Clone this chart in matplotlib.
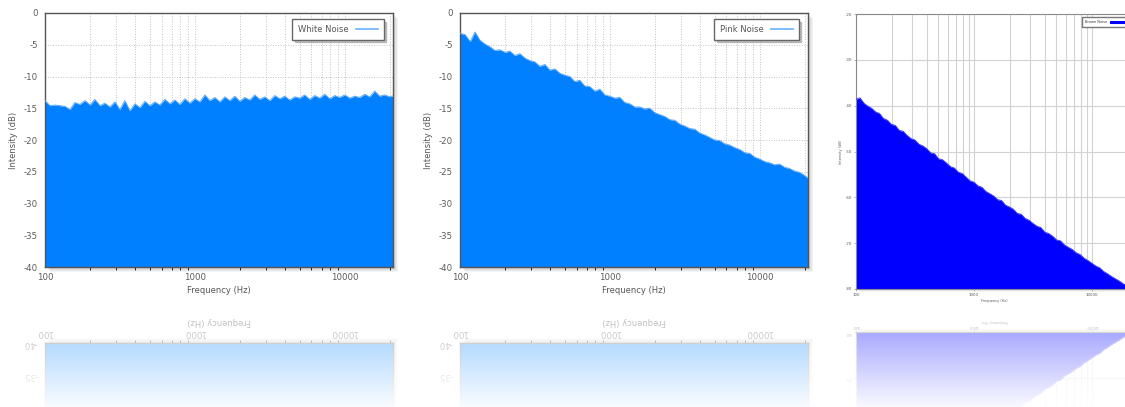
import matplotlib
matplotlib.use("Agg")
import matplotlib.pyplot as plt
import numpy as np
from matplotlib.lines import Line2D
from matplotlib.patches import Rectangle
from matplotlib.ticker import FixedLocator, LogLocator, NullFormatter

plt.rcParams["axes.unicode_minus"] = False

# frequency grid (Hz) shared by the three spectra
freq = [100, 108, 117, 126, 136, 147, 158, 171, 185, 200,
        215, 233, 251, 271, 293, 316, 341, 369, 398, 430,
        464, 501, 541, 584, 631, 681, 736, 794, 858, 926,
        1000, 1080, 1166, 1259, 1359, 1468, 1585, 1711, 1848, 1995,
        2154, 2326, 2512, 2712, 2929, 3162, 3415, 3687, 3981, 4299,
        4642, 5012, 5412, 5843, 6310, 6813, 7356, 7943, 8577, 9261,
        10000, 10798, 11659, 12589, 13594, 14678, 15849, 17113, 18478, 19953,
        21544]

white_db = [-13.8, -14.6, -14.5, -14.6, -14.7, -15.2, -14.1, -14.4, -13.8, -14.5,
            -13.6, -14.6, -14.2, -14.8, -14.0, -15.2, -13.8, -15.4, -14.3, -14.9,
            -13.9, -14.6, -14.0, -14.5, -13.6, -14.3, -13.7, -14.4, -13.5, -14.2,
            -13.5, -14.0, -12.9, -13.8, -13.3, -14.0, -13.2, -13.8, -13.1, -13.9,
            -13.3, -13.7, -12.9, -13.6, -13.2, -13.8, -13.0, -13.5, -13.1, -13.7,
            -13.2, -13.4, -12.9, -13.6, -13.0, -13.4, -12.8, -13.5, -13.0, -13.3,
            -12.9, -13.4, -13.1, -13.3, -12.8, -13.2, -12.3, -13.1, -12.9, -13.2,
            -13.0]

pink_db = [-3.2, -3.4, -4.5, -3.0, -4.3, -4.9, -5.3, -5.9, -5.8, -6.2,
           -6.0, -6.7, -6.4, -7.1, -7.5, -7.7, -8.4, -8.1, -9.0, -8.8,
           -9.5, -9.8, -10.0, -10.8, -10.6, -11.5, -11.6, -12.3, -12.0, -12.9,
           -13.1, -13.4, -13.3, -14.1, -14.3, -14.8, -14.8, -15.1, -15.0, -15.7,
           -16.0, -16.3, -16.8, -16.9, -17.5, -17.8, -18.2, -18.3, -18.9, -19.2,
           -19.6, -20.0, -20.1, -20.6, -20.8, -21.2, -21.5, -22.0, -22.1, -22.7,
           -23.0, -23.4, -23.6, -23.9, -23.8, -24.3, -24.5, -24.9, -25.1, -25.6,
           -26.2]

brown_db = [-38.6, -38.3, -39.5, -40.1, -40.6, -41.4, -41.7, -42.8, -43.2, -44.1,
            -44.3, -45.4, -45.6, -46.5, -47.2, -47.5, -48.4, -48.8, -49.4, -50.3,
            -50.5, -51.6, -51.8, -52.5, -53.3, -53.6, -54.5, -54.8, -55.6, -56.4,
            -56.7, -57.5, -57.8, -58.7, -59.2, -59.7, -60.5, -60.7, -61.7, -62.1,
            -62.6, -63.5, -63.7, -64.6, -65.0, -65.7, -66.3, -66.6, -67.6, -67.9,
            -68.5, -69.3, -69.5, -70.4, -70.9, -71.4, -72.1, -72.5, -73.3, -73.8,
            -74.4, -75.0, -75.4, -76.2, -76.7, -77.3, -77.8, -78.3, -78.9, -79.3,
            -79.7]

x_ticks = [100, 1000, 10000]
x_tick_labels = ["100", "1000", "10000"]

W, H = 1125, 407
fig = plt.figure(figsize=(W / 100, H / 100), dpi=100)
fig.patch.set_facecolor("white")


def px_box(left, top, right, bottom):
    return [left / W, 1 - bottom / H, (right - left) / W, (bottom - top) / H]


def mirror_box(left, top, right, bottom, m):
    # box reflected about the horizontal line y = m (pixels from top)
    return px_box(left, 2 * m - bottom, right, 2 * m - top)


def shadow(box, n=5, up=False, a=0.045):
    l, b, w, h = box
    for i in range(1, n + 1):
        dy = (i / H) if up else -(i / H)
        fig.add_artist(Rectangle((l + i / W, b + dy), w, h, transform=fig.transFigure,
                                 facecolor="black", edgecolor="none", alpha=a, zorder=-5))


def draw(ax, db, fill, edge, xmax, ylim, ystep, big, flip=False):
    ax.fill_between(freq, db, ylim[0], color=fill, lw=0, zorder=2)
    ax.plot(freq, db, color=edge, lw=0.7, zorder=3)
    ax.set_xscale("log")
    ax.set_xlim(100, xmax)
    if flip:
        ax.set_ylim(ylim[1], ylim[0])
        # only the two lowest ticks show up in the reflection
        ax.set_yticks([ylim[0], ylim[0] + ystep])
    else:
        ax.set_ylim(*ylim)
        ax.set_yticks(np.arange(ylim[0], ylim[1] + 1, ystep))
    ax.xaxis.set_major_locator(FixedLocator(x_ticks))
    ax.set_xticklabels(x_tick_labels)
    ax.xaxis.set_minor_locator(LogLocator(base=10, subs=range(2, 10)))
    ax.xaxis.set_minor_formatter(NullFormatter())
    ax.set_axisbelow(True)
    if big:
        gkw = dict(color="#c4c4c4", lw=0.7, linestyle=(0, (1, 1.6)))
        scol = "#555555"
        ax.tick_params(length=0, labelsize=6.2, labelcolor="#5a5a5a")
        ax.tick_params(axis="x", pad=4)
        ax.tick_params(axis="y", pad=5)
        lab_fs, xpad, ypad = 6, 3.5, 4
    else:
        gkw = dict(color="#d2d2d2", lw=0.8, linestyle="-")
        scol = "#8a8a8a"
        ax.tick_params(length=1.5, width=0.5, color="#999999", labelsize=2.8,
                       labelcolor="#555555", pad=1.5)
        ax.tick_params(which="minor", length=0)
        lab_fs, xpad, ypad = 2.5, 1, 2
    ax.grid(True, which="both", axis="x", **gkw)
    ax.grid(True, which="major", axis="y", **gkw)
    for s in ax.spines.values():
        s.set_color(scol)
        s.set_linewidth(1.0 if big else 0.8)
    if flip:
        ax.xaxis.tick_top()
        ax.xaxis.set_label_position("top")
        ax.tick_params(labelrotation=180)
        ax.set_xlabel("Frequency (Hz)", fontsize=lab_fs, color="#555555",
                      labelpad=xpad, rotation=180)
    else:
        ax.set_xlabel("Frequency (Hz)", fontsize=lab_fs, color="#555555", labelpad=xpad)
        ax.set_ylabel("Intensity (dB)", fontsize=lab_fs, color="#555555", labelpad=ypad)


panels = [
    # (pixel box, data, fill, edge, legend colour, label, x max, y range, step, big, mirror line)
    ((45, 13, 393, 267), white_db, "#0080ff", "#5aaaff", "#66b2ff", "White Noise",
     21000, (-40, 0), 5, True, 305),
    ((460, 13, 808, 267), pink_db, "#0080ff", "#5aaaff", "#66b2ff", "Pink Noise",
     21000, (-40, 0), 5, True, 305),
    ((856, 14, 1132.5, 289), brown_db, "#0000ff", "#3a3aff", "#0000ff", "Brown Noise",
     22050, (-80, -20), 10, False, 310.5),
]

for pbox, db, fill, edge, lcol, label, xmax, ylim, ystep, big, m in panels:
    box = px_box(*pbox)
    rbox = mirror_box(*pbox, m)
    shadow(box, n=5 if big else 3)
    shadow(rbox, n=5 if big else 3, up=True)

    ax = fig.add_axes(box)
    draw(ax, db, fill, edge, xmax, ylim, ystep, big)
    if big:
        ax.legend(handles=[Line2D([], [], color=lcol, lw=1.2)], labels=[label],
                  loc="upper right", bbox_to_anchor=(0.985, 0.993), markerfirst=False,
                  fontsize=6, labelcolor="#555555", fancybox=False, edgecolor="#666666",
                  framealpha=1, handlelength=2.6, borderpad=0.7, handletextpad=0.9,
                  shadow={"color": "0.55", "alpha": 0.5})
    else:
        ax.legend(handles=[Line2D([], [], color=lcol, lw=2.2)], labels=[label],
                  loc="upper right", bbox_to_anchor=(0.995, 0.995), markerfirst=False,
                  fontsize=2.5, labelcolor="#333333", fancybox=False, edgecolor="#777777",
                  framealpha=1, handlelength=4.5, borderpad=0.8, handletextpad=1.2)

    rax = fig.add_axes(rbox)
    draw(rax, db, fill, edge, xmax, ylim, ystep, big, flip=True)

# fade-out of the reflections
top_px = 305
fade = fig.add_axes([0, 0, 1, (H - top_px) / H], zorder=20)
alpha = np.linspace(0.55, 0.98, 256)
grad = np.ones((256, 1, 4))
grad[:, 0, 3] = alpha
fade.imshow(grad, aspect="auto", extent=[0, 1, 0, 1], origin="upper")
fade.set_axis_off()

fig.savefig("out.png", dpi=100, facecolor="white")
